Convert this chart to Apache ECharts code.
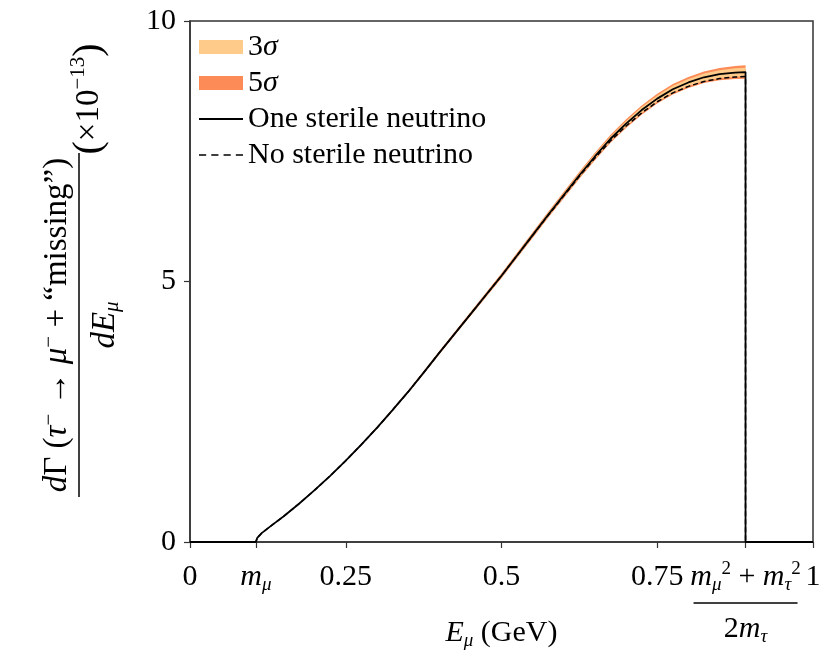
<!DOCTYPE html>
<html>
<head>
<meta charset="utf-8">
<script src="https://cdn.jsdelivr.net/npm/echarts@6/dist/echarts.min.js"></script>
<style>
html,body{margin:0;padding:0;background:#fff;}
#chart{width:832px;height:660px;}
</style>
</head>
<body>
<div id="chart"></div>
<script>
// Kinematic endpoints (GeV)
const E_MIN = 0.1057;   // m_mu
const E_MAX = 0.8917;   // (m_mu^2 + m_tau^2) / (2 m_tau)

// Sampled muon energies (GeV)
const xs = [0.1057,0.108,0.115,0.13,0.15,0.175,0.2,0.225,0.25,0.275,0.3,0.325,0.35,0.375,0.4,0.425,0.45,0.475,0.5,0.525,0.55,0.575,0.6,0.625,0.65,0.675,0.7,0.725,0.75,0.775,0.8,0.825,0.85,0.875,0.8917];
// One sterile neutrino (x1e-13)
const oneSterile = [0,0.08,0.17,0.31,0.49,0.735,0.995,1.27,1.56,1.87,2.19,2.53,2.88,3.25,3.63,4.00,4.37,4.74,5.11,5.50,5.89,6.28,6.66,7.04,7.40,7.74,8.03,8.29,8.51,8.69,8.82,8.92,8.98,9.01,9.02];
// No sterile neutrino
const noSterile = [0,0.08,0.17,0.31,0.49,0.735,0.995,1.27,1.56,1.87,2.19,2.53,2.88,3.25,3.63,4.00,4.37,4.74,5.11,5.50,5.885,6.27,6.645,7.02,7.37,7.70,7.985,8.235,8.45,8.62,8.745,8.84,8.895,8.925,8.935];
// Band half-widths
const halfWidth5 = [0,0,0,0,0.002,0.004,0.006,0.008,0.01,0.013,0.016,0.019,0.022,0.026,0.03,0.034,0.038,0.042,0.046,0.05,0.054,0.058,0.062,0.067,0.072,0.077,0.082,0.088,0.094,0.1,0.106,0.112,0.118,0.125,0.13];
const halfWidth3 = [0,0,0,0,0.001,0.003,0.004,0.005,0.007,0.008,0.010,0.012,0.014,0.017,0.020,0.022,0.025,0.027,0.030,0.033,0.035,0.038,0.040,0.044,0.047,0.050,0.053,0.057,0.061,0.065,0.069,0.073,0.077,0.081,0.085];
// Axis ticks
const xTickValues = [0, E_MIN, 0.25, 0.5, 0.75, E_MAX, 1];
const xTickLabels = ['{n|0}', '{i|m}{sub|μ}', '{n|0.25}', '{n|0.5}', '{n|0.75}',
  '{i|m}{sub|μ}{sup|2}{n| + }{i|m}{sub|τ}{sup|2}\n{bar| }\n{n|2}{i|m}{sub|τ}', '{n|1}'];
const yTicks = [0, 5, 10];

const SERIF = '"Liberation Serif","DejaVu Serif",serif';
const FS = 30;
const C3 = '#FECB8A', C5 = '#FC8B58';

const pair = (ys) => xs.map((x, i) => [x, ys[i]]);
const withEnds = (pts) => [[0, 0]].concat(pts).concat([[E_MAX, 0], [1, 0]]);

const richBase = {
  n: {fontFamily: SERIF, fontSize: FS, color: '#000', lineHeight: 34},
  i: {fontFamily: SERIF, fontSize: FS, fontStyle: 'italic', color: '#000', lineHeight: 34},
  sub: {fontFamily: SERIF, fontSize: 19, fontStyle: 'italic', color: '#000', lineHeight: 34, verticalAlign: 'bottom'},
  sup: {fontFamily: SERIF, fontSize: 19, color: '#000', lineHeight: 34, verticalAlign: 'top'},
  bar: {width: 104, height: 1.5, lineHeight: 18, fontSize: 2, backgroundColor: '#000'}
};
const richTitle = {
  n: {fontFamily: SERIF, fontSize: 33, color: '#000', lineHeight: 36},
  i: {fontFamily: SERIF, fontSize: 33, fontStyle: 'italic', color: '#000', lineHeight: 36},
  sub: {fontFamily: SERIF, fontSize: 21, fontStyle: 'italic', color: '#000', lineHeight: 36, verticalAlign: 'bottom'},
  sup: {fontFamily: SERIF, fontSize: 21, color: '#000', lineHeight: 36, verticalAlign: 'top'},
  p: {fontFamily: SERIF, fontSize: 40, color: '#000', lineHeight: 42}
};
const richLegend = {
  n: {fontFamily: SERIF, fontSize: FS, color: '#000', lineHeight: 30},
  g: {fontFamily: SERIF, fontSize: FS, fontStyle: 'italic', color: '#000', lineHeight: 30}
};

function bandSeries(name, hw, color, z) {
  return {
    name: name, type: 'custom', z: z, silent: true,
    data: xs.map((x, i) => [x, oneSterile[i] - hw[i], oneSterile[i] + hw[i]]),
    encode: {x: 0, y: [1, 2]},
    itemStyle: {color: color},
    renderItem: function (params, api) {
      if (params.dataIndex !== 0) return;
      const upper = xs.map((x, i) => api.coord([x, oneSterile[i] + hw[i]]));
      const lower = xs.map((x, i) => api.coord([x, oneSterile[i] - hw[i]])).reverse();
      return {type: 'polygon', shape: {points: upper.concat(lower)}, style: {fill: color}};
    }
  };
}

const chart = echarts.init(document.getElementById('chart'), null, {renderer: 'canvas'});

const option = {
  animation: false,
  backgroundColor: '#fff',
  grid: {left: 190, right: 19, top: 21, bottom: 118, containLabel: false, outerBoundsMode: 'none',
    show: true, borderColor: '#333', borderWidth: 1.5, backgroundColor: 'transparent'},
  legend: {
    orient: 'vertical', left: 194, top: 27, itemWidth: 44, itemHeight: 14, itemGap: 6,
    textStyle: {fontFamily: SERIF, fontSize: FS, color: '#000', lineHeight: 30, rich: richLegend},
    formatter: function (name) {
      if (name === '3σ') return '{n|3}{g|σ}';
      if (name === '5σ') return '{n|5}{g|σ}';
      return '{n|' + name + '}';
    },
    data: [
      {name: '3σ', icon: 'rect', itemStyle: {color: C3}},
      {name: '5σ', icon: 'rect', itemStyle: {color: C5}},
      {name: 'One sterile neutrino', icon: 'path://M0,0H44V1.8H0Z', itemStyle: {color: '#000'}},
      {name: 'No sterile neutrino', icon: 'path://M0,0H7V1.5H0Z M12,0H19V1.5H12Z M24,0H31V1.5H24Z M36,0H43V1.5H36Z', itemStyle: {color: '#000'}}
    ],
    selectedMode: false
  },
  xAxis: {
    type: 'value', min: 0, max: 1,
    axisLine: {show: true, lineStyle: {color: '#333', width: 1.5}},
    axisTick: {show: true, customValues: xTickValues, length: 6, lineStyle: {color: '#333', width: 1.2}},
    axisLabel: {
      customValues: xTickValues, margin: 18, color: '#000', fontFamily: SERIF, fontSize: FS,
      formatter: function (v) {
        let best = 0, d = 1e9;
        xTickValues.forEach((t, i) => { if (Math.abs(t - v) < d) { d = Math.abs(t - v); best = i; } });
        return xTickLabels[best];
      },
      rich: richBase
    },
    splitLine: {show: false},
    name: '{i|E}{sub|μ}{n| (GeV)}', nameLocation: 'middle', nameGap: 74, nameMoveOverlap: false,
    nameTextStyle: {rich: richBase}
  },
  yAxis: {
    type: 'value', min: 0, max: 10, interval: 5,
    axisLine: {show: true, lineStyle: {color: '#333', width: 1.5}},
    axisTick: {show: true, length: 6, lineStyle: {color: '#333', width: 1.2}},
    axisLabel: {margin: 14, color: '#000', fontFamily: SERIF, fontSize: FS,
      formatter: (v) => yTicks.indexOf(v) >= 0 ? String(v) : ''},
    splitLine: {show: false}
  },
  series: [
    bandSeries('5σ', halfWidth5, C5, 1),
    bandSeries('3σ', halfWidth3, C3, 2),
    {name: 'No sterile neutrino', type: 'line', data: withEnds(pair(noSterile)), symbol: 'none',
      lineStyle: {color: '#000', width: 1.5, type: [5, 3]}, itemStyle: {color: '#000'}, z: 3},
    {name: 'One sterile neutrino', type: 'line', data: withEnds(pair(oneSterile)), symbol: 'none',
      lineStyle: {color: '#000', width: 1.8}, itemStyle: {color: '#000'}, z: 4}
  ],
  graphic: [{
    type: 'group', x: 79, y: 325, rotation: Math.PI / 2,
    children: [
      {type: 'text', x: 0, y: -22, style: {
        text: '{i|d}{n|Γ (}{i|τ}{sup|−}{n| → }{i|μ}{sup|−}{n| + “missing”)}',
        rich: richTitle, align: 'center', verticalAlign: 'middle'}},
      {type: 'line', shape: {x1: -172, y1: 0, x2: 172, y2: 0}, style: {stroke: '#000', lineWidth: 1.5}},
      {type: 'text', x: 0, y: 26, style: {
        text: '{i|dE}{sub|μ}', rich: richTitle, align: 'center', verticalAlign: 'middle'}},
      {type: 'text', x: 226, y: 10, style: {
        text: '{p|(}{n|×10}{sup|−13}{p|)}',
        rich: richTitle, align: 'center', verticalAlign: 'middle'}}
    ]
  }]
};
chart.setOption(option);
</script>
</body>
</html>
